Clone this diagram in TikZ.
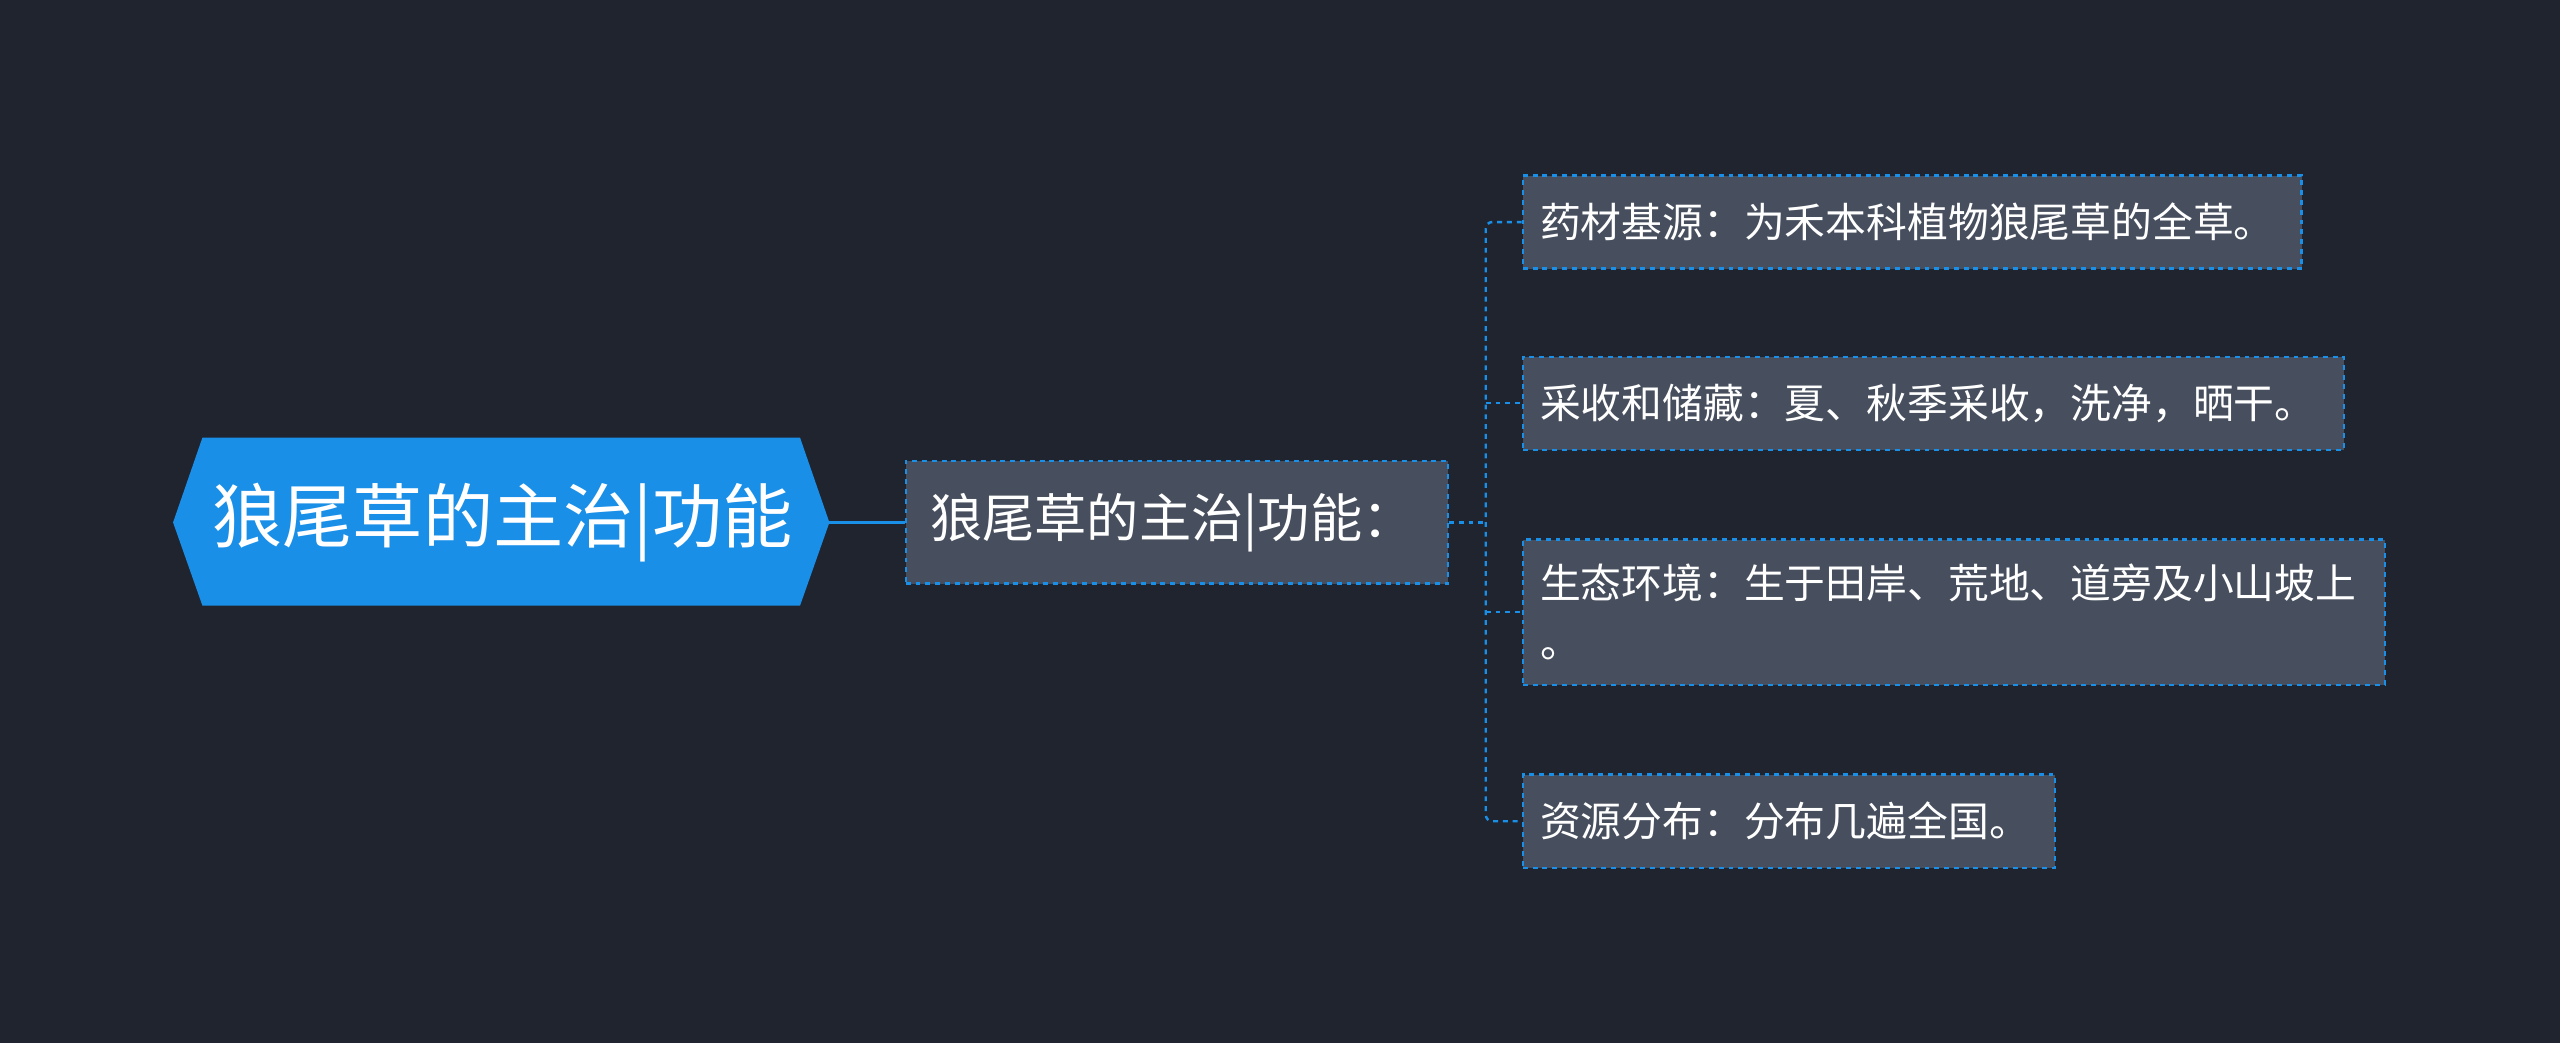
\documentclass[tikz,border=0pt]{standalone}
\usepackage{fontspec}
\setmainfont{Noto Sans CJK SC}
\usetikzlibrary{shapes.geometric}
\definecolor{bg}{HTML}{20242F}
\definecolor{blu}{HTML}{1A8FE8}
\definecolor{box}{HTML}{474F5E}
\tikzset{
 leaf/.style={draw=blu,dashed,fill=box,text=white,anchor=west,align=left,inner sep=0pt,font=\fontsize{25}{36}\selectfont,line width=1.5pt},
 conn/.style={draw=blu,dashed,line width=1.5pt,rounded corners=4pt}
}
\begin{document}
\begin{tikzpicture}[x=1pt,y=-1pt]
\fill[bg] (0,0) rectangle (1568,639);
\fill[blu] (106,320) -- (124,268) -- (490,268) -- (508,320) -- (490,371) -- (124,371) -- cycle;
\node[text=white,font=\fontsize{43}{50}\selectfont] (root) at (308,320) {狼尾草的主治|功能};
\coordinate (rootE) at (508,320);
\node[leaf,minimum width=332pt,minimum height=75pt,font=\fontsize{32}{38}\selectfont,text width=320pt] (c) at (554,320) {\hspace*{9pt}狼尾草的主治|功能：};
\draw[blu,line width=2pt] (rootE) -- (c.west);
\node[leaf,minimum width=477pt,minimum height=57pt,text width=470pt] (l1) at (932,136) {\hspace*{7pt}药材基源：为禾本科植物狼尾草的全草。};
\node[leaf,minimum width=503pt,minimum height=57pt,text width=496pt] (l2) at (932,247) {\hspace*{7pt}采收和储藏：夏、秋季采收，洗净，晒干。};
\node[leaf,minimum width=528pt,minimum height=89pt,text width=521pt] (l3) at (932,375) {\hspace*{7pt}生态环境：生于田岸、荒地、道旁及小山坡上\\\hspace*{7pt}。};
\node[leaf,minimum width=326pt,minimum height=57pt,text width=319pt] (l4) at (932,503) {\hspace*{7pt}资源分布：分布几遍全国。};
\coordinate (j) at (910,320);
\draw[conn] (c.east) -- (j);
\draw[conn] (l1.west) -- (910,136) -- (910,503) -- (l4.west);
\draw[conn] (910,247) -- (l2.west);
\draw[conn] (910,375) -- (l3.west);
\end{tikzpicture}
\end{document}
